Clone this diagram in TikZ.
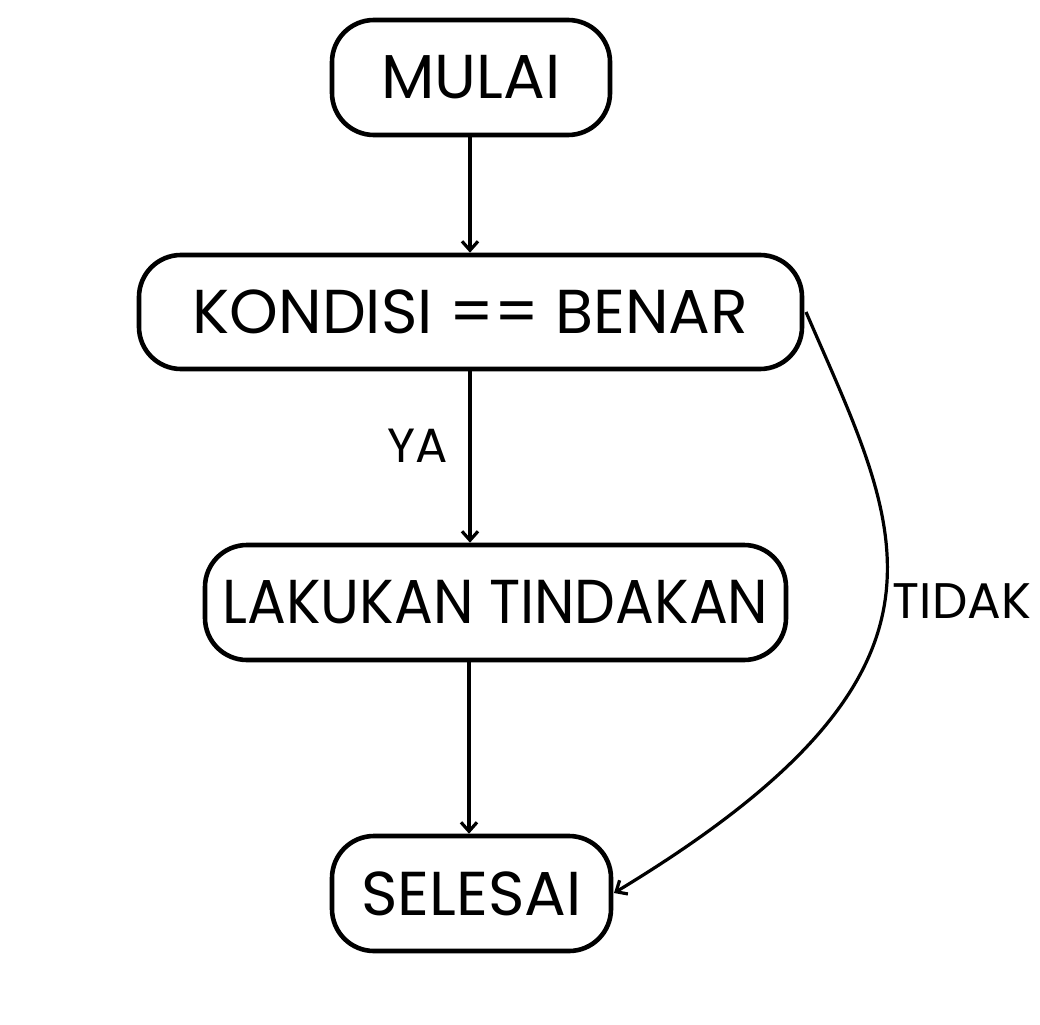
\documentclass[tikz,border=0pt]{standalone}
\usepackage{fontspec}
\setmainfont{Poppins}
\newfontfamily\narrowfont{Poppins}[FakeStretch=0.93]
\usetikzlibrary{arrows.meta}
\begin{document}
\begin{tikzpicture}[x=1pt,y=-1pt,
  box/.style={draw, line width=4.6pt, rounded corners=42pt, inner sep=0pt,
    font=\fontsize{62}{70}\selectfont},
  conn/.style={line width=3.2pt, -{Straight Barb[length=9pt,width=16pt,line width=3.2pt]}},
  lbl/.style={font=\fontsize{48}{54}\selectfont}]
\useasboundingbox (0,0) rectangle (1040,1024);
\node[box, minimum width=278pt, minimum height=115pt] (mulai) at (471,77.5) {MULAI};
\node[box, minimum width=663pt, minimum height=114pt] (kondisi) at (470.5,312) {KONDISI == BENAR};
\node[box, minimum width=581pt, minimum height=115pt, font=\narrowfont\fontsize{62}{70}\selectfont] (lakukan) at (495.5,602.5) {LAKUKAN TINDAKAN};
\node[box, minimum width=279pt, minimum height=115pt] (selesai) at (471.5,893.5) {SELESAI};
\coordinate (tstart) at (806,312);
\coordinate (tend) at (614,893);
\coordinate (m1) at (470,137);
\coordinate (ya1) at (470,370);
\coordinate (ls1) at (469,660);
\draw[conn] (m1) -- (m1 |- kondisi.north);
\draw[conn] (ya1) -- (ya1 |- lakukan.north);
\draw[conn] (ls1) -- (ls1 |- selesai.north);
\draw[conn] (tstart) .. controls (900,530) and (986,668) .. (tend);
\node[lbl] (ya) at (418,446) {YA};
\node[lbl, font=\fontsize{50}{56}\selectfont] (tidak) at (962,601) {TIDAK};
\end{tikzpicture}
\end{document}
